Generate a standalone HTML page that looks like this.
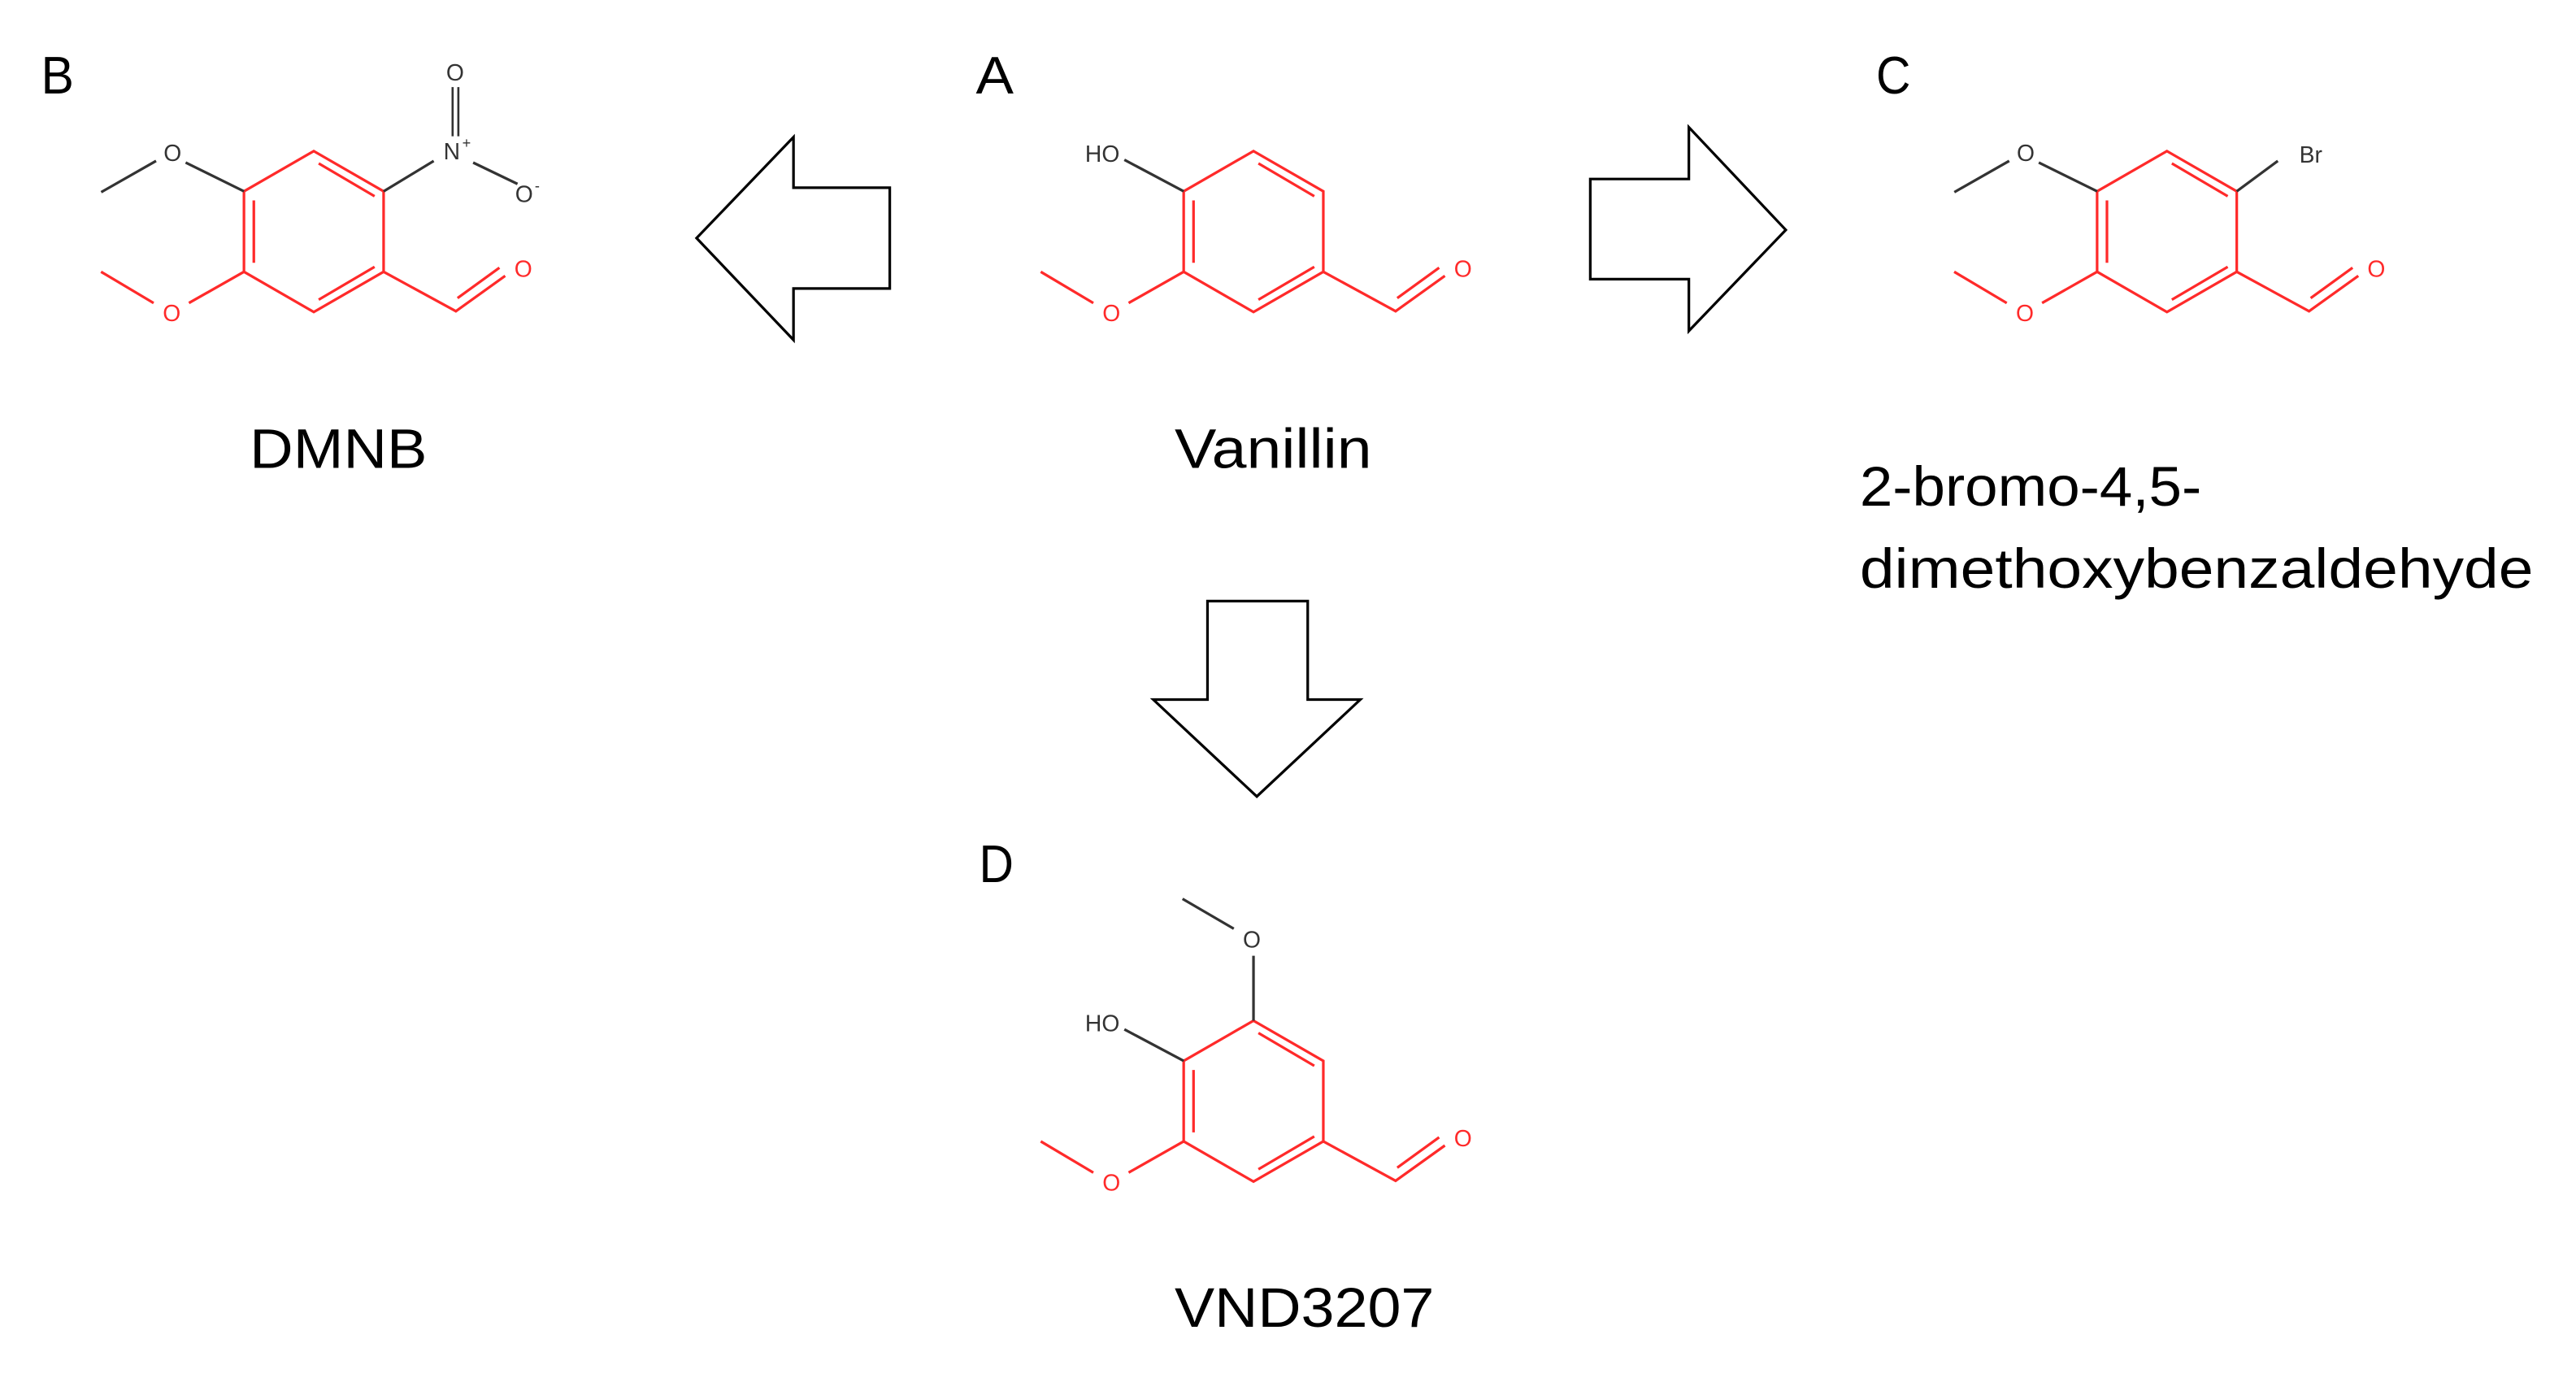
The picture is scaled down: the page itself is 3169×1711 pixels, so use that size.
<!DOCTYPE html>
<html><head><meta charset="utf-8"><style>
html,body{margin:0;padding:0;background:#fff;}
svg{display:block;}
text{font-family:"Liberation Sans",sans-serif;}
</style></head><body>
<svg width="3169" height="1711" viewBox="0 0 1568 847" preserveAspectRatio="none" xmlns="http://www.w3.org/2000/svg">
<defs>
<g id="core">
 <path d="M0,-49 L42.5,-24.5 L42.5,24.5 L0,49 L-42.5,24.5 L-42.5,-24.5 Z" fill="none" stroke="#ff2a2a" stroke-width="1.6" stroke-linejoin="miter"/>
 <path d="M-36.5,-19 L-36.5,19 M3,-41.5 L37,-21.5 M3,41.5 L37,21.5" stroke="#ff2a2a" stroke-width="1.6" fill="none"/>
 <path d="M42.5,24.5 L86.5,48.5 L116.5,27 M87.5,40.5 L113,22" stroke="#ff2a2a" stroke-width="1.6" fill="none"/>
 <text x="127.5" y="27.5" font-size="14" fill="#ff2a2a" text-anchor="middle">O</text>
 <path d="M-42.5,24.5 L-76,43.5 M-97.5,43.5 L-129.5,24.5" stroke="#ff2a2a" stroke-width="1.6" fill="none"/>
 <text x="-86.5" y="54.5" font-size="14" fill="#ff2a2a" text-anchor="middle">O</text>
</g>
<g id="ho">
 <text x="-92" y="-42.5" font-size="14" fill="#333" text-anchor="middle">HO</text>
 <path d="M-78.6,-43.7 L-42.5,-24.5" stroke="#333" stroke-width="1.6"/>
</g>
<g id="ome">
 <text x="-86" y="-43" font-size="14" fill="#333" text-anchor="middle">O</text>
 <path d="M-78,-42 L-42.5,-24.5 M-129.4,-24 L-96,-43" stroke="#333" stroke-width="1.6" fill="none"/>
</g>
</defs>

<!-- labels -->
<text x="25" y="57" font-size="32" textLength="20" lengthAdjust="spacingAndGlyphs">B</text>
<text x="594" y="57" font-size="32" textLength="23" lengthAdjust="spacingAndGlyphs">A</text>
<text x="1142" y="57" font-size="32" textLength="21" lengthAdjust="spacingAndGlyphs">C</text>
<text x="596" y="537" font-size="32" textLength="21" lengthAdjust="spacingAndGlyphs">D</text>
<text x="152" y="285" font-size="34" textLength="108" lengthAdjust="spacingAndGlyphs">DMNB</text>
<text x="715" y="285" font-size="34" textLength="120" lengthAdjust="spacingAndGlyphs">Vanillin</text>
<text x="1132" y="308" font-size="34" textLength="208" lengthAdjust="spacingAndGlyphs">2-bromo-4,5-</text>
<text x="1132" y="358" font-size="34" textLength="410" lengthAdjust="spacingAndGlyphs">dimethoxybenzaldehyde</text>
<text x="715" y="808" font-size="34" textLength="158" lengthAdjust="spacingAndGlyphs">VND3207</text>

<!-- arrows -->
<g fill="#fff" stroke="#000" stroke-width="1.6" stroke-linejoin="miter">
 <path d="M424,145 L483,83.5 L483,114.3 L541.6,114.3 L541.6,175.7 L483,175.7 L483,207 Z"/>
 <path d="M1087,140 L1028,77.5 L1028,109 L968,109 L968,170 L1028,170 L1028,201.5 Z"/>
 <path d="M765,485 L702,426 L735,426 L735,366 L796,366 L796,426 L828,426 Z"/>
</g>

<!-- A vanillin -->
<g transform="translate(763,141)"><use href="#core"/><use href="#ho"/></g>

<!-- B DMNB -->
<g transform="translate(191,141)">
 <use href="#core"/><use href="#ome"/>
 <path d="M42.5,-24.5 L73,-43" stroke="#333" stroke-width="1.6"/>
 <text x="84" y="-44" font-size="14" fill="#333" text-anchor="middle">N</text>
 <text x="93" y="-51" font-size="9" fill="#333" text-anchor="middle">+</text>
 <path d="M84.5,-58 L84.5,-88 M88,-58 L88,-88" stroke="#333" stroke-width="1.3"/>
 <text x="86" y="-92" font-size="14" fill="#333" text-anchor="middle">O</text>
 <path d="M97,-42 L124,-29" stroke="#333" stroke-width="1.6"/>
 <text x="128" y="-18" font-size="14" fill="#333" text-anchor="middle">O</text>
 <text x="136" y="-25" font-size="9" fill="#333" text-anchor="middle">-</text>
</g>

<!-- C bromo -->
<g transform="translate(1319,141)">
 <use href="#core"/><use href="#ome"/>
 <path d="M42.5,-24.5 L67.5,-43" stroke="#333" stroke-width="1.6"/>
 <text x="87.6" y="-42" font-size="14" fill="#333" text-anchor="middle">Br</text>
</g>

<!-- D -->
<g transform="translate(763,670.5)">
 <use href="#core"/><use href="#ho"/>
 <path d="M0,-49 L0,-88.5" stroke="#333" stroke-width="1.6"/>
 <text x="-1" y="-93.5" font-size="14" fill="#333" text-anchor="middle">O</text>
 <path d="M-43.2,-123.2 L-12,-105" stroke="#333" stroke-width="1.6"/>
</g>
</svg>
</body></html>
